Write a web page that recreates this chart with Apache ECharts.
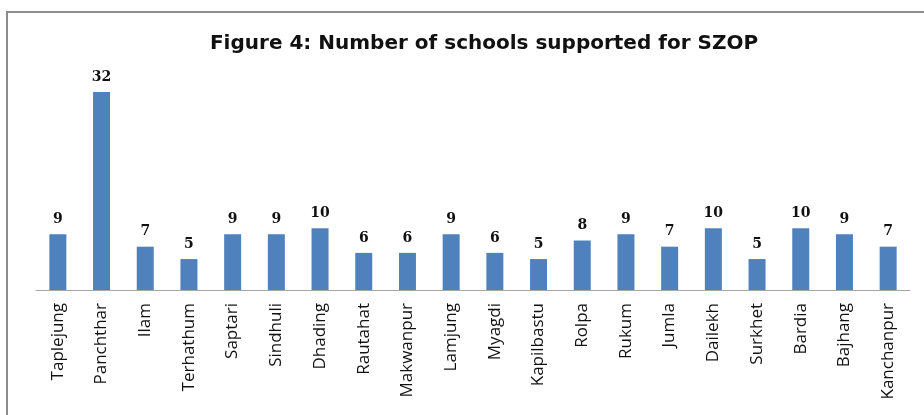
<!DOCTYPE html>
<html>
<head>
<meta charset="utf-8">
<script src="https://cdn.jsdelivr.net/npm/echarts@6/dist/echarts.min.js"></script>
<style>
  html, body { margin: 0; padding: 0; background: #fff; }
  #main { width: 924px; height: 415px; }
</style>
</head>
<body>
<div id="main"></div>
<script>
var districts = ["Taplejung", "Panchthar", "Ilam", "Terhathum", "Saptari", "Sindhuli", "Dhading",
  "Rautahat", "Makwanpur", "Lamjung", "Myagdi", "Kapilbastu", "Rolpa", "Rukum", "Jumla",
  "Dailekh", "Surkhet", "Bardia", "Bajhang", "Kanchanpur"];
var schools = [9, 32, 7, 5, 9, 9, 10, 6, 6, 9, 6, 5, 8, 9, 7, 10, 5, 10, 9, 7];

var myChart = echarts.init(document.getElementById("main"));
var option = {
  animation: false,
  title: {
    text: "Figure 4: Number of schools supported for SZOP",
    left: 479,
    top: 29,
    textAlign: "center",
    textStyle: {
      fontFamily: "DejaVu Sans",
      fontWeight: "bold",
      fontSize: 20,
      color: "#111",
    },
  },
  graphic: [
    {
      type: "rect",
      shape: { x: 7, y: 12, width: 930, height: 420 },
      style: { fill: "none", stroke: "#8c8c8c", lineWidth: 2 },
    },
  ],
  grid: { left: 36, right: 14, top: 92, bottom: 125 },
  xAxis: {
    type: "category",
    data: districts,
    axisLine: { lineStyle: { color: "#a6a6a6", width: 1 } },
    axisTick: { show: false },
    axisLabel: {
      rotate: 90,
      interval: 0,
      margin: 13,
      color: "#111",
      fontSize: 17,
      fontFamily: "Open Sans",
    },
  },
  yAxis: {
    type: "value",
    min: 0,
    max: 32,
    show: false,
    splitLine: { show: false },
  },
  series: [
    {
      type: "bar",
      data: schools,
      barWidth: 17,
      itemStyle: { color: "#4f81bd" },
      label: {
        show: true,
        position: "top",
        distance: 8,
        color: "#111",
        fontSize: 14,
        fontWeight: "bold",
        fontFamily: "DejaVu Serif",
      },
    },
  ],
};
option && myChart.setOption(option);
</script>
</body>
</html>
